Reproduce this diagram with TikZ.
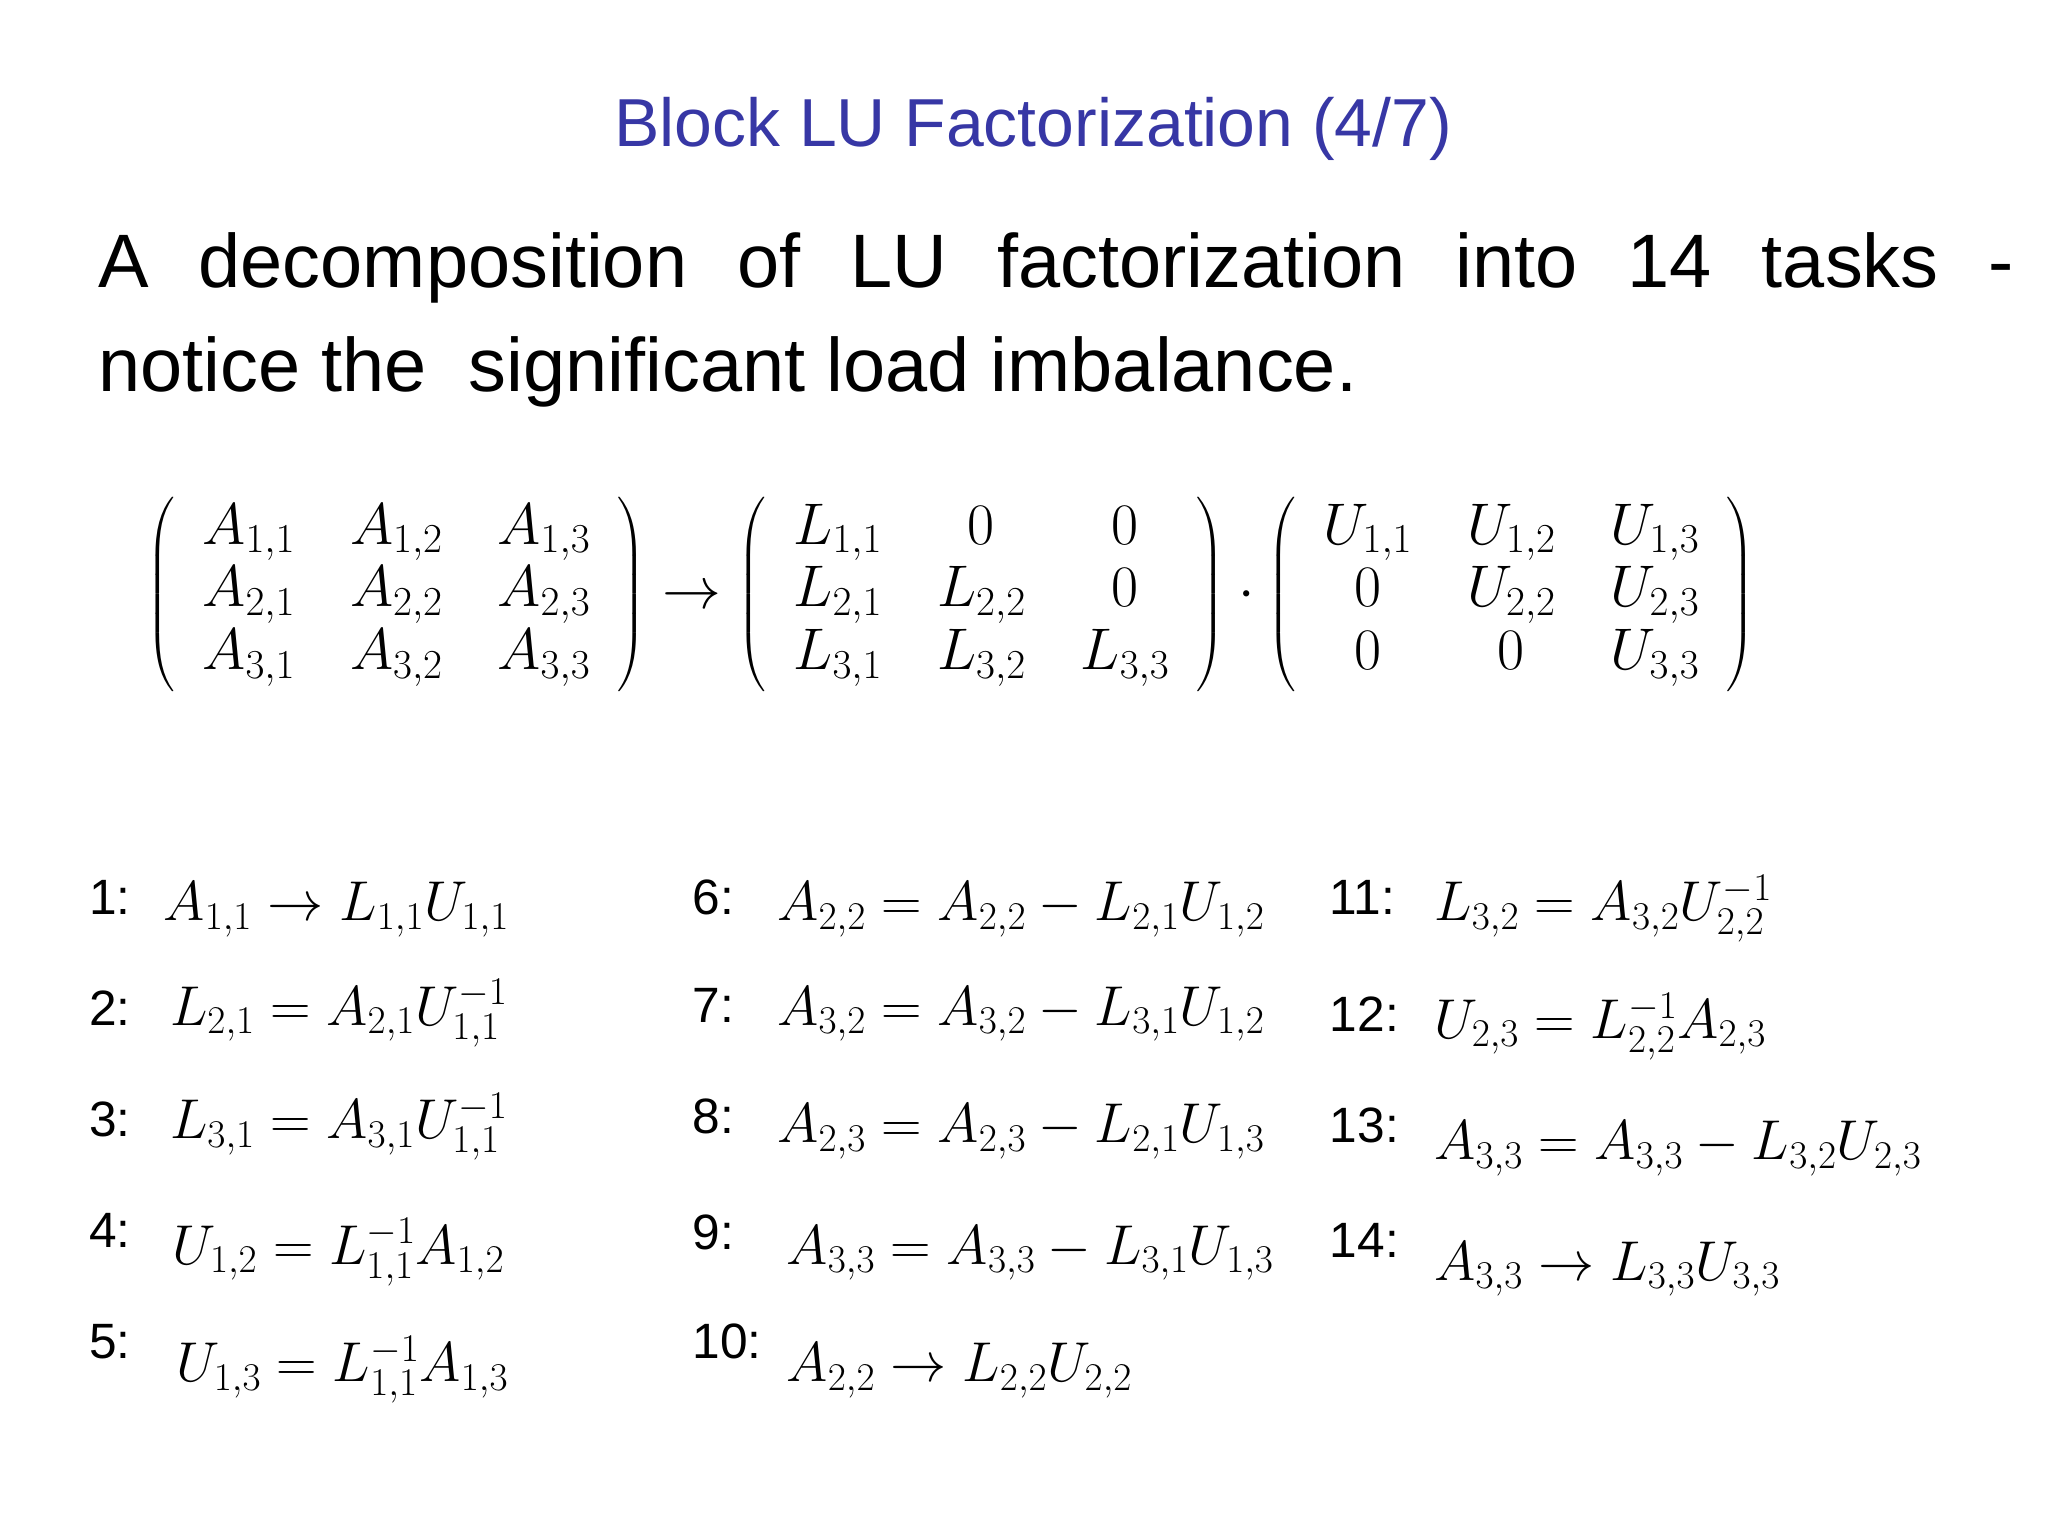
\RequirePackage{fix-cm}
\documentclass[tikz,border=0pt]{standalone}
\usepackage{amsmath}
\usepackage{fontspec}
\setmainfont{Liberation Sans}
\definecolor{ttl}{RGB}{55,55,165}
\begin{document}
\begin{tikzpicture}[x=1pt,y=-1pt,
  lab/.style={anchor=base west,inner sep=0pt,font=\fontsize{38}{40}\selectfont},
  fm/.style={anchor=base west,inner sep=0pt,font=\fontsize{43}{48}\selectfont}]
\useasboundingbox (0,0) rectangle (1568,1176);
\node[inner sep=0pt,anchor=base,text=ttl,font=\fontsize{52}{56}\selectfont] (title) at (791,112) {Block LU Factorization (4/7)};
\node[inner sep=0pt,anchor=base west,font=\fontsize{58}{60}\selectfont] (l1) at (75,220) {A\hspace{0.66em}decomposition\hspace{0.66em}of\hspace{0.66em}LU\hspace{0.66em}factorization\hspace{0.66em}into\hspace{0.66em}14\hspace{0.66em}tasks\hspace{0.66em}-};
\node[inner sep=0pt,anchor=base west,font=\fontsize{58}{60}\selectfont] (l2) at (75,300) {notice the\ \ significant load imbalance.};
\node[inner sep=0pt,font=\fontsize{45}{48}\selectfont] (mat) at (728,455) {\setlength{\arraycolsep}{21pt}\renewcommand{\arraystretch}{1}$\left(\begin{array}{ccc} A_{1,1} & A_{1,2} & A_{1,3}\\ A_{2,1} & A_{2,2} & A_{2,3}\\ A_{3,1} & A_{3,2} & A_{3,3}\end{array}\right)\rightarrow\left(\begin{array}{ccc} L_{1,1} & 0 & 0\\ L_{2,1} & L_{2,2} & 0\\ L_{3,1} & L_{3,2} & L_{3,3}\end{array}\right)\cdot\left(\begin{array}{ccc} U_{1,1} & U_{1,2} & U_{1,3}\\ 0 & U_{2,2} & U_{2,3}\\ 0 & 0 & U_{3,3}\end{array}\right)$};
% column 1
\node[lab] (n1) at (68,700) {1:};
\node[fm] (f1) at (125,705) {$A_{1,1}\rightarrow L_{1,1}U_{1,1}$};
\node[lab] (n2) at (68,785) {2:};
\node[fm] (f2) at (130,785) {$L_{2,1}=A_{2,1}U_{1,1}^{-1}$};
\node[lab] (n3) at (68,870) {3:};
\node[fm] (f3) at (130,872) {$L_{3,1}=A_{3,1}U_{1,1}^{-1}$};
\node[lab] (n4) at (68,955) {4:};
\node[fm] (f4) at (132,968) {$U_{1,2}=L_{1,1}^{-1}A_{1,2}$};
\node[lab] (n5) at (68,1040) {5:};
\node[fm] (f5) at (135,1058) {$U_{1,3}=L_{1,1}^{-1}A_{1,3}$};
% column 2
\node[lab] (n6) at (530,700) {6:};
\node[fm] (f6) at (595,705) {$A_{2,2}=A_{2,2}-L_{2,1}U_{1,2}$};
\node[lab] (n7) at (530,783) {7:};
\node[fm] (f7) at (595,785) {$A_{3,2}=A_{3,2}-L_{3,1}U_{1,2}$};
\node[lab] (n8) at (530,868) {8:};
\node[fm] (f8) at (595,875) {$A_{2,3}=A_{2,3}-L_{2,1}U_{1,3}$};
\node[lab] (n9) at (530,957) {9:};
\node[fm] (f9) at (602,968) {$A_{3,3}=A_{3,3}-L_{3,1}U_{1,3}$};
\node[lab] (n10) at (530,1040) {10:};
\node[fm] (f10) at (602,1058) {$A_{2,2}\rightarrow L_{2,2}U_{2,2}$};
% column 3
\node[lab] (n11) at (1018,700) {11:};
\node[fm] (f11) at (1098,705) {$L_{3,2}=A_{3,2}U_{2,2}^{-1}$};
\node[lab] (n12) at (1018,790) {12:};
\node[fm] (f12) at (1098,795) {$U_{2,3}=L_{2,2}^{-1}A_{2,3}$};
\node[lab] (n13) at (1018,875) {13:};
\node[fm] (f13) at (1098,888) {$A_{3,3}=A_{3,3}-L_{3,2}U_{2,3}$};
\node[lab] (n14) at (1018,963) {14:};
\node[fm] (f14) at (1098,980) {$A_{3,3}\rightarrow L_{3,3}U_{3,3}$};
\end{tikzpicture}
\end{document}
